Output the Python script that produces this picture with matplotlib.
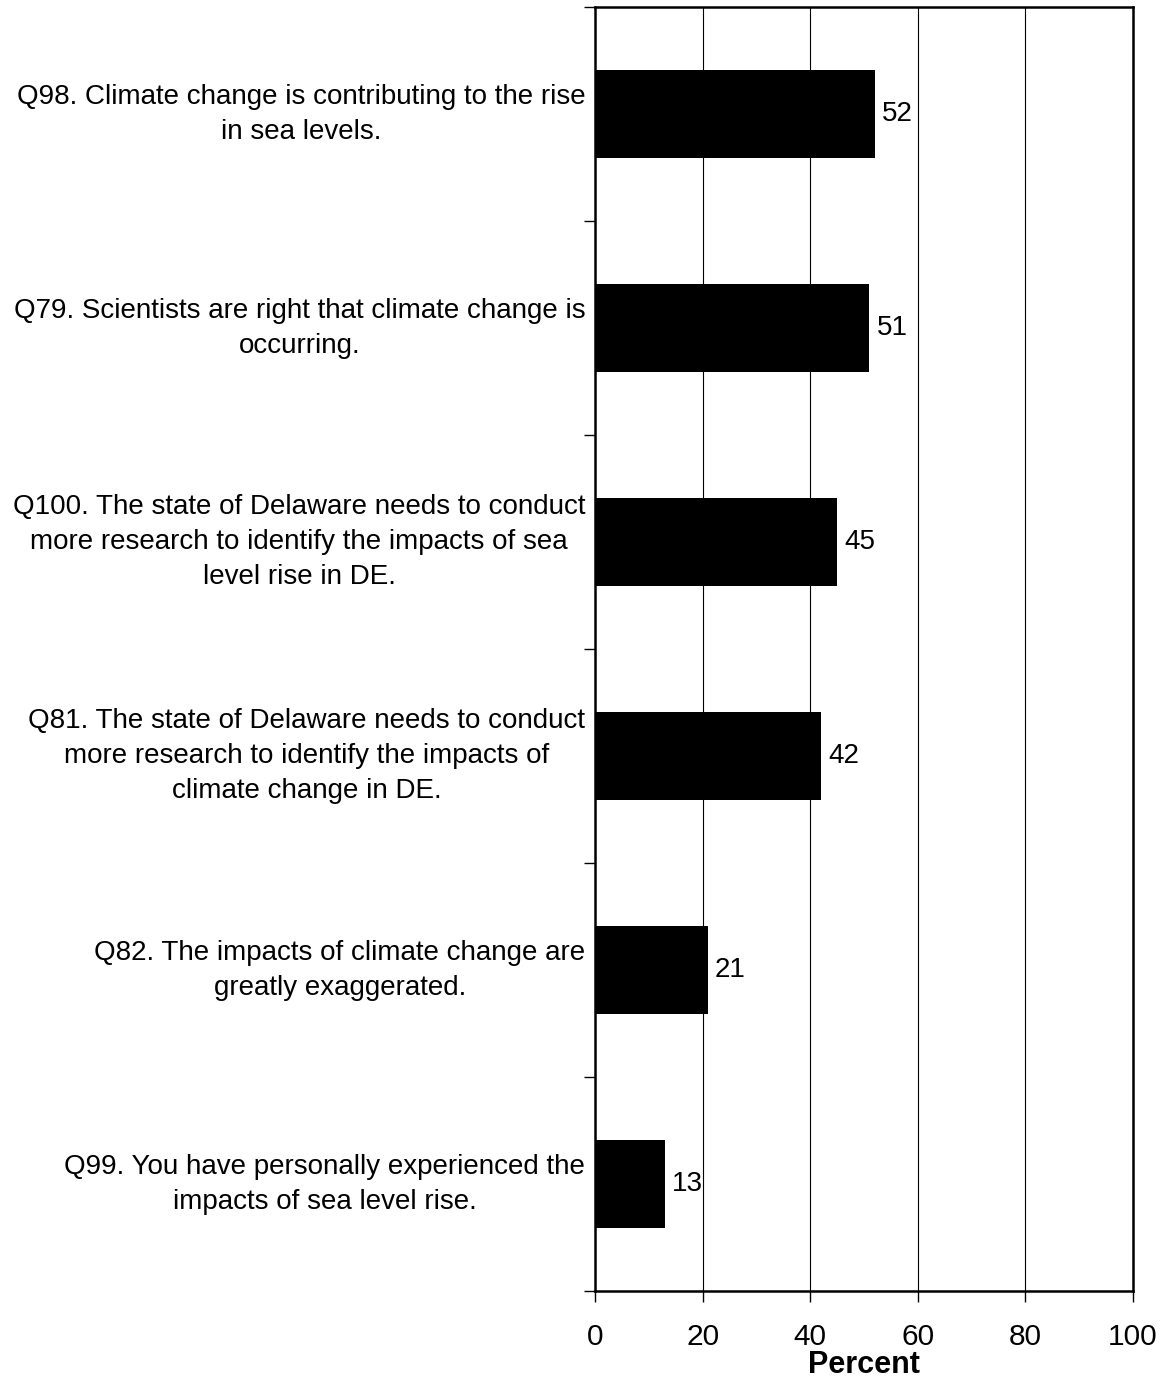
import matplotlib.pyplot as plt
import numpy as np

plt.rcParams['font.family'] = ['Liberation Sans', 'DejaVu Sans']

questions = [
    "Q98. Climate change is contributing to the rise\nin sea levels.",
    "Q79. Scientists are right that climate change is\noccurring.",
    "Q100. The state of Delaware needs to conduct\nmore research to identify the impacts of sea\nlevel rise in DE.",
    "Q81. The state of Delaware needs to conduct\nmore research to identify the impacts of\nclimate change in DE.",
    "Q82. The impacts of climate change are\ngreatly exaggerated.",
    "Q99. You have personally experienced the\nimpacts of sea level rise.",
]
percent = [52, 51, 45, 42, 21, 13]
xticks = [0, 20, 40, 60, 80, 100]

fig = plt.figure(figsize=(11.63, 13.83), dpi=100)
ax = fig.add_axes([0.5116, 0.0665, 0.4626, 0.9284])

pos = np.arange(len(percent)) + 0.5
ax.barh(pos, percent, height=0.41, color='black', zorder=3)
for p, v in zip(pos, percent):
    ax.text(v + 1.3, p, str(v), va='center', ha='left', fontsize=20, zorder=4)

ax.set_xlim(0, 100)
ax.set_ylim(len(percent), 0)
ax.set_xticks(xticks)
ax.set_xticklabels([str(t) for t in xticks], fontsize=21.5)
ax.tick_params(axis='x', direction='out', length=8, width=1, pad=15)
ax.xaxis.grid(True, color='black', lw=0.8, zorder=1)

ax.set_yticks(pos)
ax.set_yticklabels(questions, fontsize=20, va='center')
for lab in ax.get_yticklabels():
    lab.set_multialignment('center')
    lab.set_linespacing(1.45)
ax.tick_params(axis='y', which='major', length=0, pad=7)
ax.set_yticks(np.arange(len(percent) + 1), minor=True)
ax.tick_params(axis='y', which='minor', direction='out', length=8, width=1)

for s in ax.spines.values():
    s.set_linewidth(1.8)

ax.set_xlabel('Percent', fontsize=22, fontweight='bold', labelpad=-1)

fig.savefig('out.png', dpi=100)
